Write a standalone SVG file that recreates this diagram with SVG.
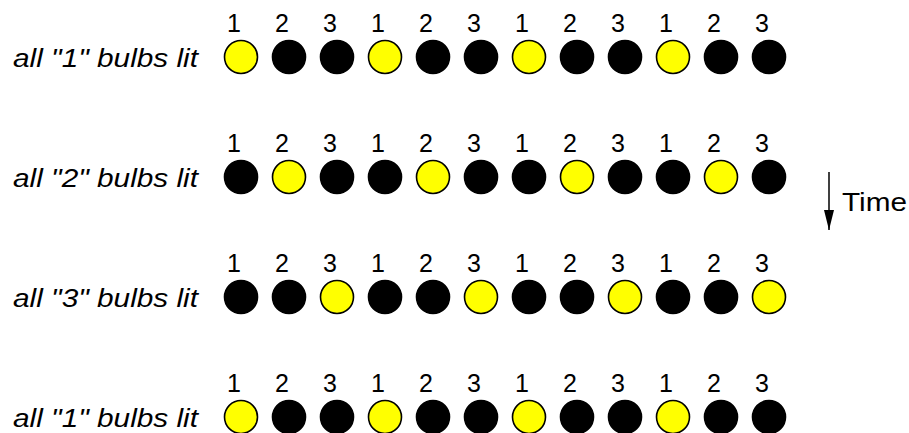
<svg xmlns="http://www.w3.org/2000/svg" width="909" height="433" viewBox="0 0 909 433">
<style>
.lbl{font-family:"Liberation Sans",Arial,sans-serif;font-size:25px;font-style:italic;fill:#000}
.num{font-family:"Liberation Sans",Arial,sans-serif;font-size:25px;fill:#000;text-anchor:middle}
.time{font-family:"Liberation Sans",Arial,sans-serif;font-size:25px;fill:#000}
.on{fill:#ffff00;stroke:#000;stroke-width:1.6}
.off{fill:#000;stroke:#000;stroke-width:1.6}
</style>
<defs>
<marker id="ah" viewBox="0 0 20 10" refX="20" refY="5" markerWidth="20" markerHeight="10" markerUnits="userSpaceOnUse" orient="auto">
<path d="M0,0 L20,5 L0,10 Z" fill="#000"/>
</marker>
</defs>
<rect width="909" height="433" fill="#fff"/>
<g id="row1">
<text class="lbl" x="13" y="67" textLength="185" lengthAdjust="spacingAndGlyphs">all "1" bulbs lit</text>
<g class="num"><text x="234" y="32">1</text><text x="282" y="32">2</text><text x="330" y="32">3</text><text x="378" y="32">1</text><text x="426" y="32">2</text><text x="474" y="32">3</text><text x="522" y="32">1</text><text x="570" y="32">2</text><text x="618" y="32">3</text><text x="666" y="32">1</text><text x="714" y="32">2</text><text x="762" y="32">3</text></g>
<circle class="on" cx="241" cy="57" r="16.5"/><circle class="off" cx="289" cy="57" r="16.5"/><circle class="off" cx="337" cy="57" r="16.5"/>
<circle class="on" cx="385" cy="57" r="16.5"/><circle class="off" cx="433" cy="57" r="16.5"/><circle class="off" cx="481" cy="57" r="16.5"/>
<circle class="on" cx="529" cy="57" r="16.5"/><circle class="off" cx="577" cy="57" r="16.5"/><circle class="off" cx="625" cy="57" r="16.5"/>
<circle class="on" cx="673" cy="57" r="16.5"/><circle class="off" cx="721" cy="57" r="16.5"/><circle class="off" cx="769" cy="57" r="16.5"/>
</g>
<g id="row2">
<text class="lbl" x="13" y="187" textLength="185" lengthAdjust="spacingAndGlyphs">all "2" bulbs lit</text>
<g class="num"><text x="234" y="152">1</text><text x="282" y="152">2</text><text x="330" y="152">3</text><text x="378" y="152">1</text><text x="426" y="152">2</text><text x="474" y="152">3</text><text x="522" y="152">1</text><text x="570" y="152">2</text><text x="618" y="152">3</text><text x="666" y="152">1</text><text x="714" y="152">2</text><text x="762" y="152">3</text></g>
<circle class="off" cx="241" cy="177" r="16.5"/><circle class="on" cx="289" cy="177" r="16.5"/><circle class="off" cx="337" cy="177" r="16.5"/>
<circle class="off" cx="385" cy="177" r="16.5"/><circle class="on" cx="433" cy="177" r="16.5"/><circle class="off" cx="481" cy="177" r="16.5"/>
<circle class="off" cx="529" cy="177" r="16.5"/><circle class="on" cx="577" cy="177" r="16.5"/><circle class="off" cx="625" cy="177" r="16.5"/>
<circle class="off" cx="673" cy="177" r="16.5"/><circle class="on" cx="721" cy="177" r="16.5"/><circle class="off" cx="769" cy="177" r="16.5"/>
</g>
<g id="row3">
<text class="lbl" x="13" y="307" textLength="185" lengthAdjust="spacingAndGlyphs">all "3" bulbs lit</text>
<g class="num"><text x="234" y="272">1</text><text x="282" y="272">2</text><text x="330" y="272">3</text><text x="378" y="272">1</text><text x="426" y="272">2</text><text x="474" y="272">3</text><text x="522" y="272">1</text><text x="570" y="272">2</text><text x="618" y="272">3</text><text x="666" y="272">1</text><text x="714" y="272">2</text><text x="762" y="272">3</text></g>
<circle class="off" cx="241" cy="297" r="16.5"/><circle class="off" cx="289" cy="297" r="16.5"/><circle class="on" cx="337" cy="297" r="16.5"/>
<circle class="off" cx="385" cy="297" r="16.5"/><circle class="off" cx="433" cy="297" r="16.5"/><circle class="on" cx="481" cy="297" r="16.5"/>
<circle class="off" cx="529" cy="297" r="16.5"/><circle class="off" cx="577" cy="297" r="16.5"/><circle class="on" cx="625" cy="297" r="16.5"/>
<circle class="off" cx="673" cy="297" r="16.5"/><circle class="off" cx="721" cy="297" r="16.5"/><circle class="on" cx="769" cy="297" r="16.5"/>
</g>
<g id="row4">
<text class="lbl" x="13" y="427" textLength="185" lengthAdjust="spacingAndGlyphs">all "1" bulbs lit</text>
<g class="num"><text x="234" y="392">1</text><text x="282" y="392">2</text><text x="330" y="392">3</text><text x="378" y="392">1</text><text x="426" y="392">2</text><text x="474" y="392">3</text><text x="522" y="392">1</text><text x="570" y="392">2</text><text x="618" y="392">3</text><text x="666" y="392">1</text><text x="714" y="392">2</text><text x="762" y="392">3</text></g>
<circle class="on" cx="241" cy="417" r="16.5"/><circle class="off" cx="289" cy="417" r="16.5"/><circle class="off" cx="337" cy="417" r="16.5"/>
<circle class="on" cx="385" cy="417" r="16.5"/><circle class="off" cx="433" cy="417" r="16.5"/><circle class="off" cx="481" cy="417" r="16.5"/>
<circle class="on" cx="529" cy="417" r="16.5"/><circle class="off" cx="577" cy="417" r="16.5"/><circle class="off" cx="625" cy="417" r="16.5"/>
<circle class="on" cx="673" cy="417" r="16.5"/><circle class="off" cx="721" cy="417" r="16.5"/><circle class="off" cx="769" cy="417" r="16.5"/>
</g>
<g id="time">
<text class="time" x="842" y="211" textLength="65" lengthAdjust="spacingAndGlyphs">Time</text>
</g>
<g id="connectors">
<line x1="829" y1="172" x2="829" y2="230" stroke="#000" stroke-width="1.5" marker-end="url(#ah)"/>
</g>
</svg>
